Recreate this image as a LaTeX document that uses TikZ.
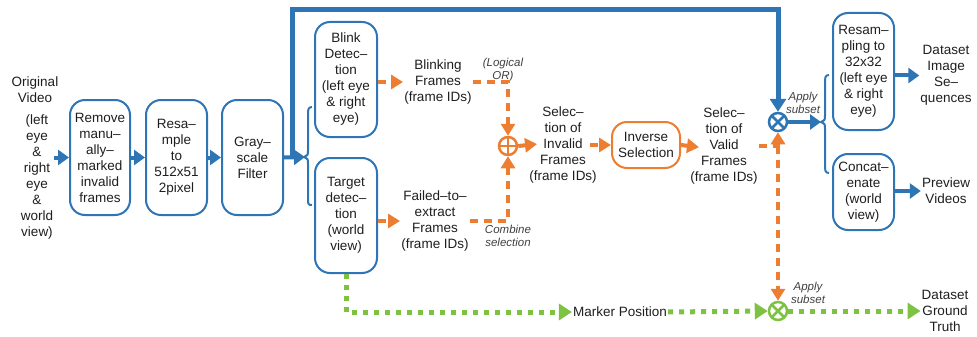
\documentclass[tikz,border=0pt]{standalone}
\usepackage{fontspec}
\setmainfont{Liberation Sans}
\usetikzlibrary{arrows.meta}
\definecolor{cblue}{HTML}{2E75B6}
\definecolor{corange}{HTML}{ED7D31}
\definecolor{cgreen}{HTML}{7DC243}
\definecolor{ctext}{HTML}{1E1E1E}
\begin{document}
\begin{tikzpicture}[x=1pt,y=-1pt,
  font=\fontsize{13.5}{16}\selectfont,
  box/.style={draw=cblue, line width=2pt, rounded corners=15pt, align=center,
    inner sep=0pt, text=ctext},
  obox/.style={box, draw=corange},
  txt/.style={align=center, text=ctext, inner sep=1pt},
  note/.style={align=center, font=\fontsize{11.5}{13}\selectfont\itshape, text=ctext!85},
  barrow/.style={draw=cblue, line width=4pt, -{Triangle[length=11pt,width=15pt]}},
  bline/.style={draw=cblue, line width=5pt, -{Triangle[length=13pt,width=16pt]}},
  bthin/.style={draw=cblue, line width=2pt},
  oarrow/.style={draw=corange, line width=4pt, dash pattern=on 8pt off 6pt,
    -{Triangle[length=12pt,width=14pt]}},
  osolid/.style={draw=corange, line width=4pt, -{Triangle[length=12pt,width=14pt]}},
  garrow/.style={draw=cgreen, line width=5pt, dash pattern=on 5pt off 6pt,
    -{Triangle[length=13pt,width=16pt]}},
  oplus/.style={circle, draw, line width=2.5pt, minimum size=18pt, inner sep=0pt,
    path picture={\draw[line width=2.5pt]
      (path picture bounding box.north) -- (path picture bounding box.south)
      (path picture bounding box.west) -- (path picture bounding box.east);}},
  otimes/.style={circle, draw, line width=2.5pt, minimum size=18pt, inner sep=0pt,
    path picture={\draw[line width=2.5pt]
      (path picture bounding box.north west) -- (path picture bounding box.south east)
      (path picture bounding box.north east) -- (path picture bounding box.south west);}},
]
\useasboundingbox (0,0) rectangle (977,337);

% --- input ---
\node[txt] (orig) at (35,90) {Original\\Video};
\node[txt] (origsub) at (37,177) {(left\\eye\\\&\\right\\eye\\\&\\world\\view)};

% --- preprocessing chain ---
\node[box, minimum width=60pt, minimum height=115pt] (remove) at (100,157.5)
  {Remove\\manu–\\ally–\\marked\\invalid\\frames};
\node[box, minimum width=61pt, minimum height=115pt] (resample) at (176.5,157.5)
  {Resa–\\mple\\to\\512x51\\2pixel};
\node[box, minimum width=61pt, minimum height=115pt] (gray) at (252.5,157.5)
  {Gray–\\scale\\Filter};

% --- detection branch ---
\node[box, minimum width=62pt, minimum height=115pt] (blink) at (346,79.5)
  {Blink\\Detec–\\tion\\(left eye\\\& right\\eye)};
\node[box, minimum width=62pt, minimum height=115pt] (target) at (346,215.5)
  {Target\\detec–\\tion\\(world\\view)};

\node[txt] (blinkT) at (438,82) {Blinking\\Frames\\(frame IDs)};
\node[txt] (failT) at (435,221) {Failed–to–\\extract\\Frames\\(frame IDs)};
\node[note] (orN) at (503,70) {(Logical\\OR)};
\node[note] (combN) at (508,235.5) {Combine\\selection};

\node[oplus, draw=corange] (plus) at (508,146) {};
\node[txt] (invT) at (563,145) {Selec–\\tion of\\Invalid\\Frames\\(frame IDs)};
\node[obox, minimum width=68pt, minimum height=46pt] (inverse) at (646,145)
  {Inverse\\Selection};
\node[txt] (validT) at (724,146) {Selec–\\tion of\\Valid\\Frames\\(frame IDs)};

% --- subset application ---
\node[otimes, draw=cblue] (ox1) at (778,122) {};
\node[note] (ap1) at (803,103) {Apply\\subset};
\node[otimes, draw=cgreen] (ox2) at (778,311) {};
\node[note] (ap2) at (808,293) {Apply\\subset};

% --- outputs ---
\node[box, minimum width=61pt, minimum height=117pt] (resamp32) at (863.5,71.5)
  {Resam–\\pling to\\32x32\\(left eye\\\& right\\eye)};
\node[box, minimum width=61pt, minimum height=76pt] (concat) at (863.5,192)
  {Concat–\\enate\\(world\\view)};
\node[txt] (imgT) at (946,75.5) {Dataset\\Image\\Se–\\quences};
\node[txt] (prevT) at (946,191) {Preview\\Videos};
\node[txt] (markT) at (620,312) {Marker Position};
\node[txt] (gtT) at (945,311) {Dataset\\Ground\\Truth};

% --- brace tips and junction ---
\coordinate (lb) at (305,157);
\coordinate (j1) at (292,157);
\coordinate (rb) at (821,122);

% --- blue connectors ---
\draw[barrow] (origsub.east |- remove.west) -- (remove.west);
\draw[barrow] (remove) -- (resample);
\draw[barrow] (resample) -- (gray);
\draw[barrow] (gray.east) -- (lb);
\draw[bline] (j1) |- (ox1.north |- 0,10) -- (ox1.north);
\draw[barrow] (ox1.east) -- (rb);
\draw[barrow] (resamp32.east |- imgT) -- (imgT.west);
\draw[barrow] (concat.east |- prevT) -- (prevT.west);

% left brace
\draw[bthin] (312,107) .. controls (308,107) and (308,110) .. (308,115) -- (308,150)
  .. controls (308,155) .. (304,157) .. controls (308,159) .. (308,164) -- (308,199)
  .. controls (308,204) and (308,205) .. (312,205);
% right brace
\draw[bthin] (829,75) .. controls (825,75) and (825,78) .. (825,83) -- (825,115)
  .. controls (825,120) .. (821,122) .. controls (825,124) .. (825,129) -- (825,165)
  .. controls (825,170) and (825,173) .. (829,173);

% --- orange connectors ---
\draw[oarrow] (blink.east |- blinkT.west) -- (blinkT.west);
\draw[oarrow] (target.east |- failT.west) -- (failT.west);
\draw[oarrow] (blinkT.east) -| (plus.north);
\draw[oarrow] (failT.east) -| (plus.south);
\draw[osolid, shorten >=-9pt] (plus.east) -- (invT.west);
\draw[oarrow, shorten <=-8pt] (invT.east) -- (inverse.west);
\draw[osolid, shorten >=-10pt] (inverse.east) -- (validT.west);
\draw[oarrow] (validT.east) -| (ox1.south);
\draw[oarrow] (validT.east -| ox2.north) -- (ox2.north);

% --- green connectors ---
\draw[garrow] (target.south) |- (markT.west);
\draw[garrow] (markT.east) -- (ox2.west);
\draw[garrow] (ox2.east) -- (gtT.west);
\end{tikzpicture}
\end{document}
